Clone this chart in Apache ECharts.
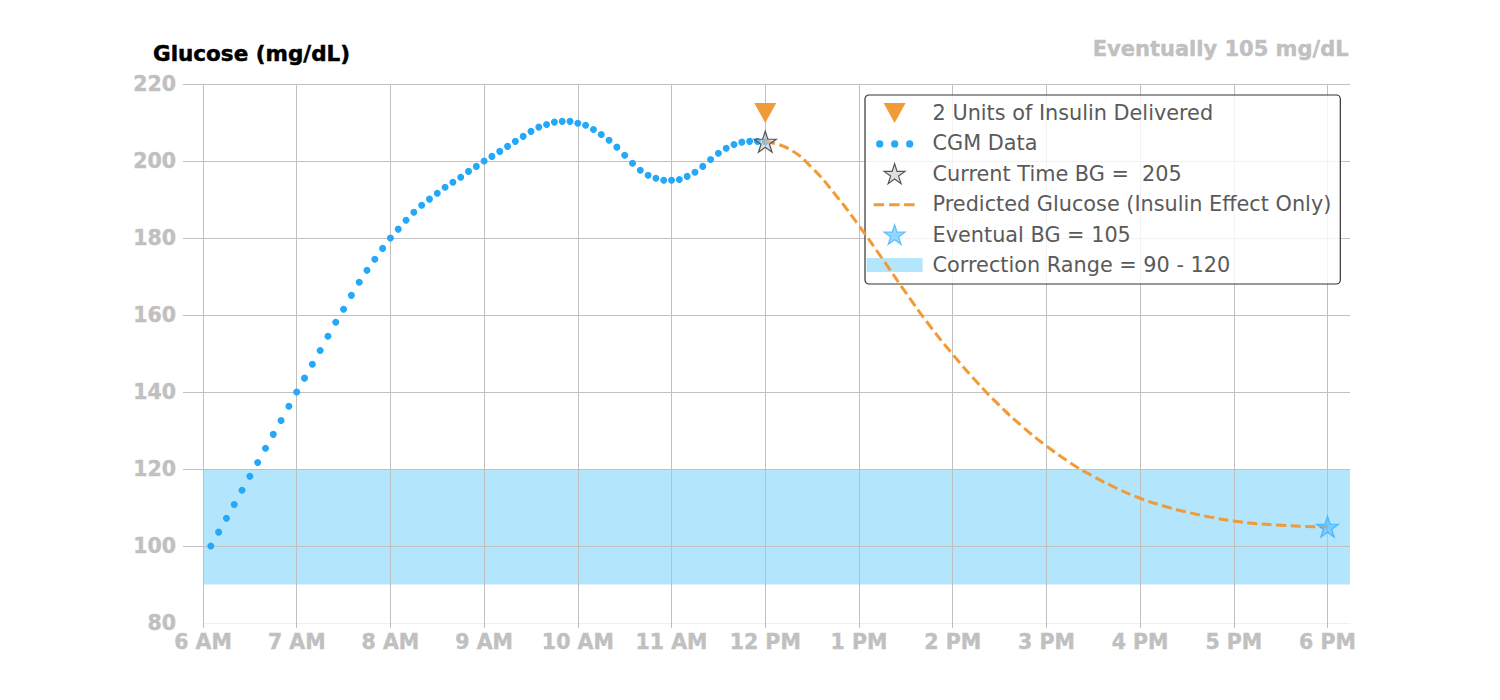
<!DOCTYPE html>
<html>
<head>
<meta charset="utf-8">
<script src="https://cdn.jsdelivr.net/npm/echarts@6/dist/echarts.min.js"></script>
<style>
html,body{margin:0;padding:0;background:#fff;}
#chart{width:1500px;height:700px;}
</style>
</head>
<body>
<div id="chart"></div>
<script>
// ---------------- data ----------------
const xTickHours = [6, 7, 8, 9, 10, 11, 12, 13, 14, 15, 16, 17, 18];
const xTickLabels = ['6 AM', '7 AM', '8 AM', '9 AM', '10 AM', '11 AM', '12 PM', '1 PM', '2 PM', '3 PM', '4 PM', '5 PM', '6 PM'];
const yTickValues = [80, 100, 120, 140, 160, 180, 200, 220];

// CGM readings every 5 minutes, 6:05 AM .. 12:00 PM
const cgmStartHour = 6 + 5 / 60;
const cgmStepMinutes = 5;
const cgmValues = [
  100.0, 103.6, 107.2, 110.8, 114.5, 118.1, 121.7, 125.4, 129.0, 132.6, 136.3,
  140.0, 143.6, 147.2, 150.8, 154.5, 158.1, 161.5, 165.1, 168.5, 171.6, 174.5, 177.3,
  180.0, 182.3, 184.6, 186.7, 188.5, 190.1, 191.6, 193.2, 194.5, 195.8, 197.3, 198.6,
  200.0, 201.2, 202.5, 203.8, 205.1, 206.4, 207.7, 208.8, 209.5, 210.1, 210.3, 210.3,
  209.8, 209.3, 208.2, 206.9, 205.4, 203.6, 201.5, 199.4, 197.6, 196.3, 195.5, 195.0,
  195.0, 195.2, 196.0, 197.1, 198.6, 200.4, 202.0, 203.3, 204.3, 204.9, 205.1, 205.1,
  205.0
];

// Predicted glucose every 15 minutes, 12:00 PM .. 6:00 PM
const predictedStartHour = 12;
const predictedStepMinutes = 15;
const predictedValues = [
  205.0, 203.2, 198.2, 191.2, 183.2, 174.6, 165.8, 157.4, 149.8,
  142.8, 136.5, 130.9, 126.0, 121.7, 118.1, 115.0, 112.4,
  110.4, 108.8, 107.5, 106.5, 105.8, 105.4, 105.1, 105.0
];

const insulinPoint = [12, 212.5];
const currentPoint = [12, 205];
const eventualPoint = [18, 105];
const correctionRange = [90, 120];

const seriesNames = [
  '2 Units of Insulin Delivered',
  'CGM Data',
  'Current Time BG =  205',
  'Predicted Glucose (Insulin Effect Only)',
  'Eventual BG = 105',
  'Correction Range = 90 - 120'
];
const yAxisTitle = 'Glucose (mg/dL)';
const eventualTitle = 'Eventually 105 mg/dL';

// ---------------- helpers ----------------
const cgmData = cgmValues.map((v, i) => [cgmStartHour + i * cgmStepMinutes / 60, v]);
const predictedData = predictedValues.map((v, i) => [predictedStartHour + i * predictedStepMinutes / 60, v]);

function starPath(cx, cy, R, r) {
  let d = '';
  for (let i = 0; i < 10; i++) {
    const a = (-90 + i * 36) * Math.PI / 180;
    const rad = i % 2 ? r : R;
    d += (i ? 'L' : 'M') + (cx + rad * Math.cos(a)).toFixed(2) + ' ' + (cy + rad * Math.sin(a)).toFixed(2) + ' ';
  }
  return d + 'Z';
}
const FW = 61, FH = 20;                 // legend icon frame
const frame = 'M0 0 M' + FW + ' ' + FH + ' ';
const starSymbol = 'path://' + starPath(0, 0, 10, 3.82);
const icons = {
  triangle: 'path://' + frame + 'M17 0 L39 0 L28 20 Z',
  dots: 'path://' + frame +
    'M9.5 10.5 a3.6 3.6 0 1 0 7.2 0 a3.6 3.6 0 1 0 -7.2 0 Z ' +
    'M24.5 10.5 a3.6 3.6 0 1 0 7.2 0 a3.6 3.6 0 1 0 -7.2 0 Z ' +
    'M39.5 10.5 a3.6 3.6 0 1 0 7.2 0 a3.6 3.6 0 1 0 -7.2 0 Z',
  star: 'path://' + frame + starPath(28, 11, 11, 4.2),
  dashes: 'path://' + frame + 'M7 9 H17.5 V12 H7 Z M22.5 9 H33 V12 H22.5 Z M37.5 9 H48 V12 H37.5 Z',
  rect: 'path://' + frame + 'M0 3 H56 V17 H0 Z'
};

const ORANGE = '#f19a38';
const BLUE = '#24a8f8';
const BAND = '#b3e5fc';
const GRID = '#c0c0c0';
const TICK_TXT = '#c0c0c0';
const FONT = 'DejaVu Sans';

const chart = echarts.init(document.getElementById('chart'), null, { renderer: 'svg' });

chart.setOption({
  animation: false,
  backgroundColor: '#ffffff',
  title: [
    { text: yAxisTitle, left: 153, top: 42, padding: 0,
      textStyle: { fontFamily: FONT, fontWeight: 'bold', fontSize: 21.5, color: '#000',
        textBorderColor: '#000', textBorderWidth: 0.5 } },
    { text: eventualTitle, right: 151, top: 38, padding: 0,
      textStyle: { fontFamily: FONT, fontWeight: 'bold', fontSize: 21, color: '#c0c0c0',
        textBorderColor: '#c0c0c0', textBorderWidth: 0.4 } }
  ],
  grid: { left: 203, right: 150, top: 84, bottom: 77, containLabel: false },
  xAxis: {
    type: 'value', min: 6, max: 18.24,
    axisLine: { show: true, lineStyle: { color: '#f0f0f0', width: 1 } },
    axisTick: { show: true, length: 5, lineStyle: { color: GRID }, customValues: xTickHours },
    axisLabel: {
      customValues: xTickHours,
      formatter: v => { const i = xTickHours.indexOf(v); return i >= 0 ? xTickLabels[i] : ''; },
      color: TICK_TXT, fontFamily: FONT, fontWeight: 'bold', fontSize: 20.5, margin: 8,
      textBorderColor: TICK_TXT, textBorderWidth: 0.4
    },
    splitLine: { show: true, lineStyle: { color: GRID, width: 1 } }
  },
  yAxis: {
    type: 'value', min: 80, max: 220, interval: 20,
    axisLine: { show: false },
    axisTick: { show: true, length: 20, lineStyle: { color: GRID }, customValues: yTickValues.filter(v => v > 80) },
    axisLabel: {
      customValues: yTickValues,
      color: TICK_TXT, fontFamily: FONT, fontWeight: 'bold', fontSize: 20.5, margin: 27,
      textBorderColor: TICK_TXT, textBorderWidth: 0.4
    },
    splitLine: { show: true, lineStyle: { color: GRID, width: 1 } }
  },
  legend: {
    left: 865, top: 95,
    orient: 'vertical',
    selectedMode: false,
    itemWidth: FW, itemHeight: FH, itemGap: 8.4,
    padding: [7, 9, 8, 1],
    backgroundColor: 'rgba(255,255,255,0.8)',
    borderColor: '#333', borderWidth: 1.2, borderRadius: 4,
    textStyle: { color: '#5a5a5a', fontFamily: FONT, fontSize: 20.8, lineHeight: 22 },
    data: [
      { name: seriesNames[0], icon: icons.triangle, itemStyle: { color: ORANGE, borderWidth: 0 } },
      { name: seriesNames[1], icon: icons.dots, itemStyle: { color: BLUE, borderWidth: 0 } },
      { name: seriesNames[2], icon: icons.star, itemStyle: { color: 'rgba(200,200,200,0.6)', borderColor: '#555', borderWidth: 1.2 } },
      { name: seriesNames[3], icon: icons.dashes, itemStyle: { color: ORANGE, borderWidth: 0 } },
      { name: seriesNames[4], icon: icons.star, itemStyle: { color: 'rgba(120,205,255,0.8)', borderColor: 'rgba(70,180,250,0.8)', borderWidth: 1.2 } },
      { name: seriesNames[5], icon: icons.rect, itemStyle: { color: BAND, borderWidth: 0 } }
    ]
  },
  series: [
    {
      name: seriesNames[5], type: 'line', data: [], z: 1,
      itemStyle: { color: BAND },
      markArea: {
        silent: true, z: -1,
        itemStyle: { color: BAND },
        data: [[{ xAxis: 'min', yAxis: correctionRange[0] }, { xAxis: 'max', yAxis: correctionRange[1] }]]
      }
    },
    {
      name: seriesNames[1], type: 'scatter', data: cgmData, z: 3,
      symbol: 'circle', symbolSize: 7,
      itemStyle: { color: BLUE, opacity: 1 }
    },
    {
      name: seriesNames[3], type: 'line', data: predictedData, z: 4,
      showSymbol: false, smooth: 0.5,
      itemStyle: { color: ORANGE },
      lineStyle: { color: ORANGE, width: 3, type: [10, 4.5] }
    },
    {
      name: seriesNames[0], type: 'scatter', data: [insulinPoint], z: 5,
      symbol: 'triangle', symbolRotate: 180, symbolSize: [22, 20],
      itemStyle: { color: ORANGE, opacity: 1 }
    },
    {
      name: seriesNames[2], type: 'scatter', data: [currentPoint], z: 6,
      symbol: starSymbol, symbolSize: [22, 21],
      itemStyle: { color: 'rgba(200,200,200,0.6)', borderColor: '#555', borderWidth: 1.2, opacity: 1 }
    },
    {
      name: seriesNames[4], type: 'scatter', data: [eventualPoint], z: 6,
      symbol: starSymbol, symbolSize: [22, 21],
      itemStyle: { color: 'rgba(90,190,255,0.65)', borderColor: 'rgba(50,170,250,0.7)', borderWidth: 1.2, opacity: 1 }
    }
  ]
});
</script>
</body>
</html>
